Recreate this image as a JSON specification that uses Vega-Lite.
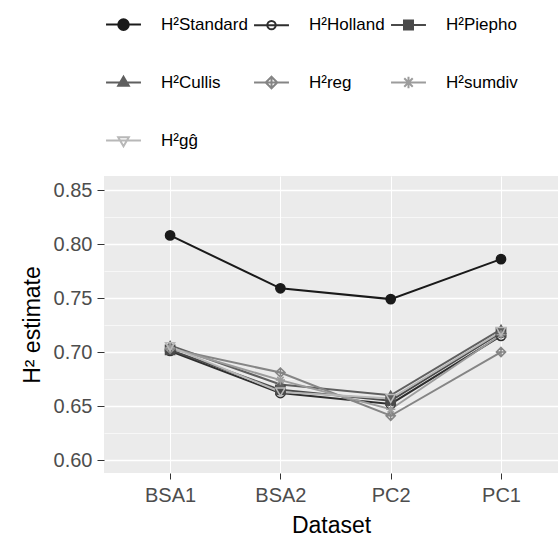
{
  "$schema": "https://vega.github.io/schema/vega-lite/v6.json",
  "width": 454,
  "height": 297,
  "padding": {"left": 21, "top": 5, "right": 0, "bottom": 0},
  "background": "white",
  "data": {
    "values": [
      {"Dataset": "BSA1", "method": "Standard", "H2": 0.808},
      {"Dataset": "BSA2", "method": "Standard", "H2": 0.759},
      {"Dataset": "PC2", "method": "Standard", "H2": 0.749},
      {"Dataset": "PC1", "method": "Standard", "H2": 0.786},
      {"Dataset": "BSA1", "method": "Holland", "H2": 0.701},
      {"Dataset": "BSA2", "method": "Holland", "H2": 0.662},
      {"Dataset": "PC2", "method": "Holland", "H2": 0.652},
      {"Dataset": "PC1", "method": "Holland", "H2": 0.715},
      {"Dataset": "BSA1", "method": "Piepho", "H2": 0.702},
      {"Dataset": "BSA2", "method": "Piepho", "H2": 0.665},
      {"Dataset": "PC2", "method": "Piepho", "H2": 0.655},
      {"Dataset": "PC1", "method": "Piepho", "H2": 0.718},
      {"Dataset": "BSA1", "method": "Cullis", "H2": 0.706},
      {"Dataset": "BSA2", "method": "Cullis", "H2": 0.670},
      {"Dataset": "PC2", "method": "Cullis", "H2": 0.660},
      {"Dataset": "PC1", "method": "Cullis", "H2": 0.721},
      {"Dataset": "BSA1", "method": "reg", "H2": 0.703},
      {"Dataset": "BSA2", "method": "reg", "H2": 0.681},
      {"Dataset": "PC2", "method": "reg", "H2": 0.641},
      {"Dataset": "PC1", "method": "reg", "H2": 0.700},
      {"Dataset": "BSA1", "method": "sumdiv", "H2": 0.704},
      {"Dataset": "BSA2", "method": "sumdiv", "H2": 0.674},
      {"Dataset": "PC2", "method": "sumdiv", "H2": 0.647},
      {"Dataset": "PC1", "method": "sumdiv", "H2": 0.716},
      {"Dataset": "BSA1", "method": "gĝ", "H2": 0.705},
      {"Dataset": "BSA2", "method": "gĝ", "H2": 0.663},
      {"Dataset": "PC2", "method": "gĝ", "H2": 0.657},
      {"Dataset": "PC1", "method": "gĝ", "H2": 0.719}
    ]
  },
  "encoding": {
    "x": {
      "field": "Dataset",
      "type": "nominal",
      "sort": ["BSA1", "BSA2", "PC2", "PC1"],
      "scale": {"type": "point", "padding": 0.558, "align": 0.537},
      "axis": {"title": "Dataset", "grid": true, "labelAngle": 0}
    },
    "y": {
      "field": "H2",
      "type": "quantitative",
      "scale": {"domain": [0.588, 0.863], "nice": false, "zero": false},
      "axis": {
        "title": "H² estimate",
        "values": [0.6, 0.625, 0.65, 0.675, 0.7, 0.725, 0.75, 0.775, 0.8, 0.825, 0.85],
        "labelExpr": "round(datum.value*1000) % 50 == 0 ? format(datum.value, '.2f') : ''",
        "tickOpacity": {"condition": {"test": "round(datum.value*1000) % 50 == 0", "value": 1}, "value": 0},
        "gridWidth": {"condition": {"test": "round(datum.value*1000) % 50 == 0", "value": 1.3}, "value": 0.6}
      }
    }
  },
  "layer": [
    {
      "mark": {"type": "line", "strokeWidth": 2},
      "encoding": {
        "stroke": {
          "field": "method",
          "type": "nominal",
          "scale": {
            "domain": ["Standard", "Holland", "Piepho", "Cullis", "reg", "sumdiv", "gĝ"],
            "range": ["#1a1a1a", "#2e2e2e", "#4a4a4a", "#5f5f5f", "#858585", "#9c9c9c", "#b8b8b8"]
          },
          "legend": null
        }
      }
    },
    {
      "mark": {"type": "point", "size": 85, "strokeWidth": 1.5, "opacity": 1},
      "encoding": {
        "stroke": {
          "field": "method",
          "type": "nominal",
          "scale": {
            "domain": ["Standard", "Holland", "Piepho", "Cullis", "reg", "sumdiv", "gĝ"],
            "range": ["#1a1a1a", "#2e2e2e", "#4a4a4a", "#5f5f5f", "#858585", "#9c9c9c", "#b8b8b8"]
          },
          "legend": null
        },
        "fill": {
          "field": "method",
          "type": "nominal",
          "scale": {
            "domain": ["Standard", "Holland", "Piepho", "Cullis", "reg", "sumdiv", "gĝ"],
            "range": ["#1a1a1a", "transparent", "#4a4a4a", "#5f5f5f", "transparent", "transparent", "transparent"]
          },
          "legend": null
        },
        "shape": {
          "field": "method",
          "type": "nominal",
          "scale": {
            "domain": ["Standard", "Holland", "Piepho", "Cullis", "reg", "sumdiv", "gĝ"],
            "range": ["circle", "circle", "square", "triangle-up", "M0,-1L1,0L0,1L-1,0ZM0,-1L0,1M-1,0L1,0", "M-1,0L1,0M0,-1L0,1M-0.7,-0.7L0.7,0.7M-0.7,0.7L0.7,-0.7", "triangle-down"]
          },
          "legend": null
        }
      }
    },
    {
      "transform": [{"filter": "false"}],
      "mark": {"type": "point", "strokeWidth": 2, "opacity": 1},
      "encoding": {
        "stroke": {
          "field": "method",
          "type": "nominal",
          "scale": {
            "domain": ["Standard", "Holland", "Piepho", "Cullis", "reg", "sumdiv", "gĝ"],
            "range": ["#1a1a1a", "#2e2e2e", "#4a4a4a", "#5f5f5f", "#858585", "#9c9c9c", "#b8b8b8"]
          },
          "legend": {"title": null, "labelExpr": "'H²' + datum.label"}
        },
        "fill": {
          "field": "method",
          "type": "nominal",
          "scale": {
            "domain": ["Standard", "Holland", "Piepho", "Cullis", "reg", "sumdiv", "gĝ"],
            "range": ["#1a1a1a", "transparent", "#4a4a4a", "#5f5f5f", "transparent", "transparent", "transparent"]
          },
          "legend": {"title": null, "labelExpr": "'H²' + datum.label"}
        },
        "shape": {
          "field": "method",
          "type": "nominal",
          "scale": {
            "domain": ["Standard", "Holland", "Piepho", "Cullis", "reg", "sumdiv", "gĝ"],
            "range": [
              "M-3.3,0L3.3,0M1,0A1,1,0,1,1,-1,0A1,1,0,1,1,1,0Z",
              "M-3.3,0L3.3,0M0.8,0A0.8,0.8,0,1,1,-0.8,0A0.8,0.8,0,1,1,0.8,0Z",
              "M-3.3,0L3.3,0M-0.85,-0.85L0.85,-0.85L0.85,0.85L-0.85,0.85Z",
              "M-3.3,0L3.3,0M0,-1.1L1,0.6L-1,0.6Z",
              "M-3.3,0L3.3,0M0,-1.1L1.1,0L0,1.1L-1.1,0ZM0,-1.1L0,1.1",
              "M-3.3,0L3.3,0M0,-1.1L0,1.1M-0.8,-0.8L0.8,0.8M-0.8,0.8L0.8,-0.8",
              "M-3.3,0L3.3,0M-1,-0.6L1,-0.6L0,1.1Z"
            ]
          },
          "legend": {"title": null, "labelExpr": "'H²' + datum.label"}
        }
      }
    }
  ],
  "resolve": {"scale": {"stroke": "independent", "fill": "independent", "shape": "independent"}},
  "config": {
    "font": "Liberation Sans",
    "view": {"fill": "#ebebeb", "stroke": null},
    "axis": {
      "domain": false,
      "gridColor": "white",
      "tickColor": "#333333",
      "tickSize": 7,
      "labelFontSize": 20,
      "labelColor": "#4d4d4d",
      "labelFont": "Liberation Sans",
      "labelPadding": 5,
      "titleFontSize": 23,
      "titleFont": "Liberation Sans",
      "titleFontWeight": "normal",
      "titleColor": "#000000"
    },
    "axisX": {"titlePadding": 9, "tickSize": 6, "labelPadding": 6},
    "axisY": {"titlePadding": 9},
    "legend": {
      "orient": "top",
      "columns": 3,
      "direction": "horizontal",
      "labelFontSize": 17,
      "labelFont": "Liberation Sans",
      "labelColor": "#000000",
      "symbolSize": 112,
      "symbolStrokeWidth": 2,
      "rowPadding": 38,
      "columnPadding": 2,
      "labelOffset": 29,
      "padding": 11,
      "offset": 14
    }
  }
}
